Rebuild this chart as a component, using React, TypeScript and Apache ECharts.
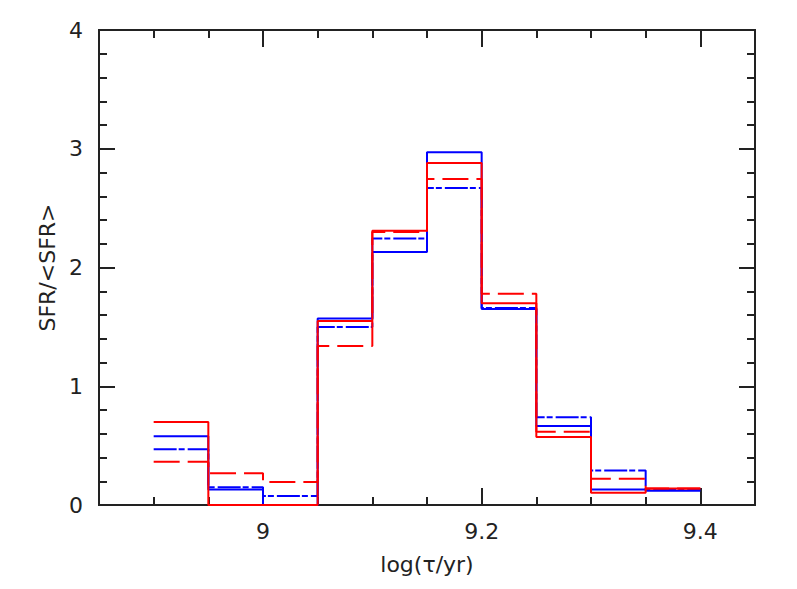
import React, { useEffect, useRef } from "react";
import * as echarts from "echarts";

const binEdges = [8.9, 8.95, 9.0, 9.05, 9.1, 9.15, 9.2, 9.25, 9.3, 9.35, 9.4];
const blueSolid = [0.58, 0.13, 0, 1.57, 2.13, 2.97, 1.65, 0.665, 0.13, 0.12];
const blueDashDot = [0.47, 0.15, 0.076, 1.5, 2.245, 2.67, 1.66, 0.74, 0.29, 0.13];
const redDashed = [0.365, 0.267, 0.194, 1.34, 2.3, 2.745, 1.78, 0.617, 0.222, 0.14];
const redSolid = [0.7, 0, 0, 1.55, 2.31, 2.88, 1.7, 0.573, 0.104, 0.14];

const xMajorTicks = [9.0, 9.2, 9.4];
const xMinorTicks = [8.9, 8.95, 9.05, 9.1, 9.15, 9.25, 9.3, 9.35, 9.45];
const xLabels = ["9", "9.2", "9.4"];

const xTitle = "log(τ/yr)";
const yTitle = "SFR/<SFR>";

function steps(vals: number[]): [number, number][] {
  const pts: [number, number][] = [];
  vals.forEach((v, i) => {
    pts.push([binEdges[i], v]);
    pts.push([binEdges[i + 1], v]);
  });
  return pts;
}

const FONT = "DejaVu Sans";
const AX = "#222";

export default function App() {
  const ref = useRef<HTMLDivElement>(null);
  useEffect(() => {
    if (!ref.current) return;
    const chart = echarts.init(ref.current, undefined, { renderer: "svg" });
    const xBase = {
      type: "value" as const,
      min: 8.85,
      max: 9.45,
      splitLine: { show: false },
      axisLine: { show: true, onZero: false, lineStyle: { color: AX, width: 2 } },
    };
    const yBase = {
      type: "value" as const,
      min: 0,
      max: 4,
      interval: 1,
      splitLine: { show: false },
      axisLine: { show: true, onZero: false, lineStyle: { color: AX, width: 2 } },
      axisTick: { show: true, inside: true, length: 16, lineStyle: { color: AX, width: 2 } },
      minorTick: { show: true, splitNumber: 5, length: 8, lineStyle: { color: AX, width: 2 } },
    };
    const mk = (name: string, vals: number[], color: string, dash: any, z: number) => ({
      name,
      type: "line",
      xAxisIndex: 0,
      yAxisIndex: 0,
      data: steps(vals),
      showSymbol: false,
      symbol: "none",
      z,
      lineStyle: { color, width: 2, type: dash },
    });
    chart.setOption({
      animation: false,
      backgroundColor: "#fff",
      grid: { left: 91, top: 22, width: 656, height: 475, containLabel: false },
      xAxis: [
        {
          ...xBase,
          position: "bottom",
          name: xTitle,
          nameLocation: "middle",
          nameGap: 48,
          nameTextStyle: { fontFamily: FONT, fontSize: 22, color: "#222" },
          axisTick: {
            show: true,
            inside: true,
            length: 17,
            customValues: xMajorTicks,
            lineStyle: { color: AX, width: 2 },
          },
          axisLabel: {
            show: true,
            customValues: xMajorTicks,
            margin: 15,
            fontFamily: FONT,
            fontSize: 22,
            color: "#222",
            formatter: (v: number) => {
              const i = xMajorTicks.findIndex((t) => Math.abs(t - v) < 1e-6);
              return i >= 0 ? xLabels[i] : "";
            },
          },
        },
        {
          ...xBase,
          position: "bottom",
          axisTick: {
            show: true,
            inside: true,
            length: 8,
            customValues: xMinorTicks,
            lineStyle: { color: AX, width: 2 },
          },
          axisLabel: { show: false },
        },
        {
          ...xBase,
          position: "top",
          axisTick: {
            show: true,
            inside: true,
            length: 17,
            customValues: xMajorTicks,
            lineStyle: { color: AX, width: 2 },
          },
          axisLabel: { show: false },
        },
        {
          ...xBase,
          position: "top",
          axisTick: {
            show: true,
            inside: true,
            length: 8,
            customValues: xMinorTicks,
            lineStyle: { color: AX, width: 2 },
          },
          axisLabel: { show: false },
        },
      ],
      yAxis: [
        {
          ...yBase,
          position: "left",
          name: yTitle,
          nameLocation: "middle",
          nameGap: 40,
          nameTextStyle: { fontFamily: FONT, fontSize: 22, color: "#222" },
          axisLabel: { show: true, margin: 16, fontFamily: FONT, fontSize: 22, color: "#222" },
        },
        {
          ...yBase,
          position: "right",
          axisLabel: { show: false },
        },
      ],
      series: [
        mk("blueSolid", blueSolid, "#0000ff", "solid", 2),
        mk("blueDashDot", blueDashDot, "#0000ff", [23, 2, 6, 3], 3),
        mk("redDashed", redDashed, "#ff0000", [26, 8], 4),
        mk("redSolid", redSolid, "#ff0000", "solid", 5),
      ],
    });
    return () => chart.dispose();
  }, []);
  return <div ref={ref} style={{ width: 781, height: 573 }} />;
}
